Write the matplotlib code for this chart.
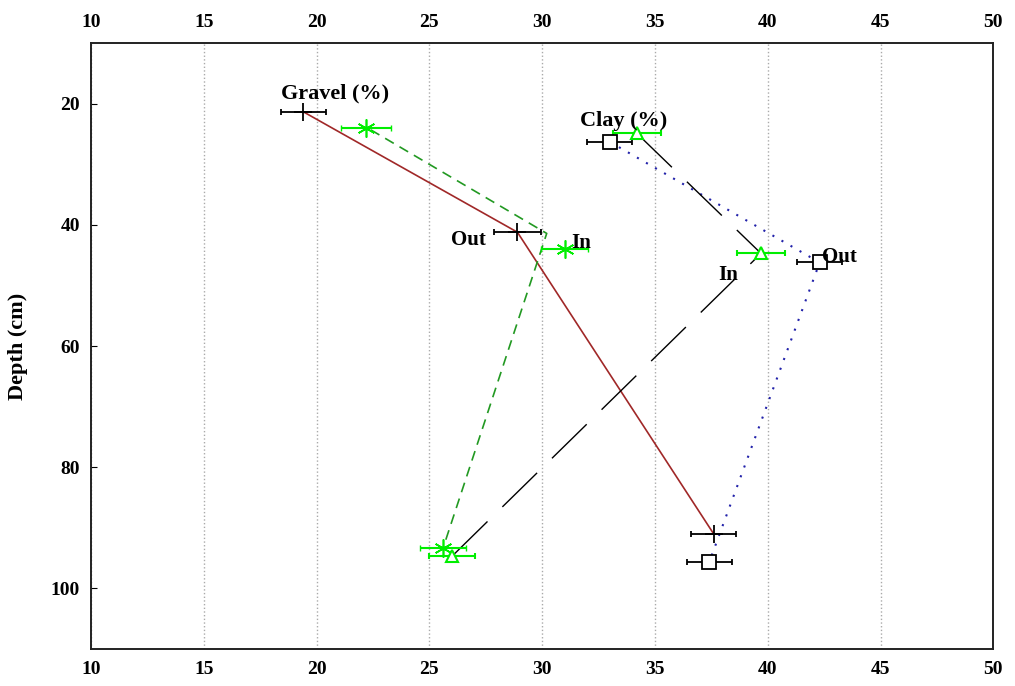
import matplotlib.pyplot as plt

# Depth profiles (x = percentage, y = depth in cm)
gravel_out_x = [19.4, 28.9, 37.6]
gravel_out_y = [21.3, 41.2, 91.0]
gravel_out_err = [1.0, 1.05, 1.0]

gravel_in_x = [22.2, 31.0, 25.6]
gravel_in_y = [24.0, 43.9, 93.4]
gravel_in_err = [1.1, 1.05, 1.0]
# the dashed connecting line does not pass exactly through the markers
gravel_in_line_x = [22.4, 30.2, 25.6]
gravel_in_line_y = [24.3, 41.4, 93.4]

clay_out_x = [33.0, 42.3, 37.4]
clay_out_y = [26.3, 46.2, 95.7]
clay_out_err = [1.0, 1.0, 1.0]

clay_in_x = [34.2, 39.7, 26.0]
clay_in_y = [24.9, 44.7, 94.7]
clay_in_err = [1.05, 1.05, 1.0]

plt.rcParams['font.family'] = 'Liberation Serif'
plt.rcParams['font.weight'] = 'bold'

fig = plt.figure(figsize=(10.15, 6.86), dpi=100)
ax = fig.add_axes([0.0897, 0.054, 0.889, 0.883])

# lines
ax.plot(gravel_out_x, gravel_out_y, color='#a02828', lw=1.2, ls='-')
ax.plot(gravel_in_line_x, gravel_in_line_y, color='#229922', lw=1.2, ls=(0, (6, 4)))
ax.plot(clay_out_x, clay_out_y, color='#2222aa', lw=1.5, ls=(0, (1, 4)))
ax.plot(clay_in_x, clay_in_y, color='black', lw=1.0, ls=(0, (35, 15)))

# error bars and markers
ax.errorbar(gravel_out_x, gravel_out_y, xerr=gravel_out_err, fmt='+', color='black',
            ms=13, mew=1.3, elinewidth=1.3, capsize=2)
ax.errorbar(gravel_in_x, gravel_in_y, xerr=gravel_in_err, fmt='none', ecolor='#00ee00',
            elinewidth=1.5, capsize=2)
ax.plot(gravel_in_x, gravel_in_y, ls='none', marker=(6, 2, 0), color='#00ee00', ms=13, mew=1.2)
ax.errorbar(clay_out_x, clay_out_y, xerr=clay_out_err, fmt='s', color='black', mfc='white',
            ms=10, mew=1.3, elinewidth=1.3, capsize=2)
ax.errorbar(clay_in_x, clay_in_y, xerr=clay_in_err, fmt='^', color='#00ee00', mfc='white',
            ms=9, mew=1.5, elinewidth=1.5, capsize=2)

# annotations
ax.text(20.8, 18.3, 'Gravel (%)', fontsize=16, ha='center', va='center')
ax.text(33.6, 22.8, 'Clay (%)', fontsize=16, ha='center', va='center')
ax.text(27.5, 42.5, 'Out', fontsize=15, ha='right', va='center')
ax.text(31.3, 42.9, 'In', fontsize=15, ha='left', va='center')
ax.text(37.8, 48.3, 'In', fontsize=15, ha='left', va='center')
ax.text(42.4, 45.3, 'Out', fontsize=15, ha='left', va='center')

ax.set_xlim(10, 50)
ax.set_ylim(110, 10)
ax.set_xticks(range(10, 51, 5))
ax.set_yticks(range(20, 101, 20))
ax.tick_params(axis='x', which='both', top=True, labeltop=True, direction='in',
               length=0, labelsize=14, pad=9)
ax.tick_params(axis='y', direction='in', length=4, labelsize=14, pad=8)
ax.grid(axis='x', color='#aaaaaa', ls=':', lw=1.0)
ax.set_ylabel('Depth (cm)', fontsize=16, fontweight='bold', labelpad=16)

for s in ax.spines.values():
    s.set_linewidth(1.4)
    s.set_color('#222222')

plt.savefig('out.png', dpi=100)
